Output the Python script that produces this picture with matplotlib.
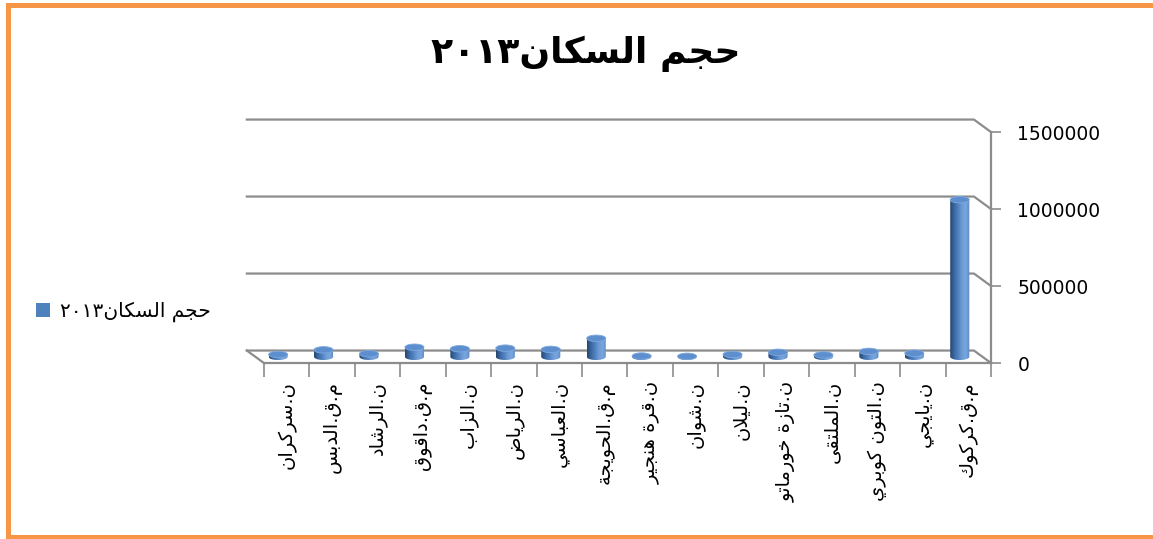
import re
import numpy as np
import matplotlib
matplotlib.use("Agg")
import matplotlib.pyplot as plt
from matplotlib.patches import Ellipse, PathPatch, Patch
from matplotlib.lines import Line2D
from matplotlib.path import Path
from matplotlib.colors import LinearSegmentedColormap

# data
title = "حجم السكان٢٠١٣"
series_name = "حجم السكان٢٠١٣"
units = ["ن.سركران", "م.ق.الدبس", "ن.الرشاد", "م.ق.داقوق", "ن.الزاب", "ن.الرياض",
         "ن.العباسي", "م.ق.الحويجة", "ن.قرة هنجير", "ن.شوان", "ن.ليلان",
         "ن.تازة خورماتو", "ن.الملتقى", "ن.التون كوبري", "ن.يايجي", "م.ق.كركوك"]
population = [15000, 45000, 20000, 62000, 52000, 56000, 48000, 120000,
              5000, 3000, 15000, 29000, 12000, 35000, 23000, 1020000]
yticks = [0, 500000, 1000000, 1500000]

# --- minimal arabic shaping (matplotlib has no text shaping) ---
FORMS = {
    'ا': (0xFE8D, 0xFE8E, None, None), 'ب': (0xFE8F, 0xFE90, 0xFE91, 0xFE92),
    'ة': (0xFE93, 0xFE94, None, None), 'ت': (0xFE95, 0xFE96, 0xFE97, 0xFE98),
    'ج': (0xFE9D, 0xFE9E, 0xFE9F, 0xFEA0), 'ح': (0xFEA1, 0xFEA2, 0xFEA3, 0xFEA4),
    'خ': (0xFEA5, 0xFEA6, 0xFEA7, 0xFEA8), 'د': (0xFEA9, 0xFEAA, None, None),
    'ر': (0xFEAD, 0xFEAE, None, None), 'ز': (0xFEAF, 0xFEB0, None, None),
    'س': (0xFEB1, 0xFEB2, 0xFEB3, 0xFEB4), 'ش': (0xFEB5, 0xFEB6, 0xFEB7, 0xFEB8),
    'ض': (0xFEBD, 0xFEBE, 0xFEBF, 0xFEC0), 'ع': (0xFEC9, 0xFECA, 0xFECB, 0xFECC),
    'ق': (0xFED5, 0xFED6, 0xFED7, 0xFED8), 'ك': (0xFED9, 0xFEDA, 0xFEDB, 0xFEDC),
    'ل': (0xFEDD, 0xFEDE, 0xFEDF, 0xFEE0), 'م': (0xFEE1, 0xFEE2, 0xFEE3, 0xFEE4),
    'ن': (0xFEE5, 0xFEE6, 0xFEE7, 0xFEE8), 'ه': (0xFEE9, 0xFEEA, 0xFEEB, 0xFEEC),
    'و': (0xFEED, 0xFEEE, None, None), 'ى': (0xFEEF, 0xFEF0, None, None),
    'ي': (0xFEF1, 0xFEF2, 0xFEF3, 0xFEF4),
}


def shape(s):
    out = []
    i = 0
    while i < len(s):
        c = s[i]
        if c not in FORMS:
            out.append(c)
            i += 1
            continue
        prev = s[i - 1] if i > 0 else ''
        pj = prev in FORMS and FORMS[prev][2] is not None
        if c == 'ل' and i + 1 < len(s) and s[i + 1] == 'ا':
            out.append(chr(0xFEFC if pj else 0xFEFB))
            i += 2
            continue
        nxt = s[i + 1] if i + 1 < len(s) else ''
        nj = nxt in FORMS and FORMS[c][2] is not None
        iso, fin, ini, med = FORMS[c]
        if pj and nj:
            f = med
        elif pj:
            f = fin
        elif nj:
            f = ini
        else:
            f = iso
        out.append(chr(f))
        i += 1
    shaped = ''.join(out)
    runs = re.findall(r'[0-9٠-٩]+|[^0-9٠-٩]+', shaped)
    runs = [r if re.match(r'[0-9٠-٩]', r) else r[::-1] for r in runs]
    return ''.join(runs[::-1])


plt.rcParams['font.family'] = ['DejaVu Sans']

GRAY = '#8c8c8c'
BLUE = '#4f81bd'
cyl = LinearSegmentedColormap.from_list('cyl', ['#27466e', '#3b67a2', '#4f81bd', '#6d9bd6', '#7aa6de', '#5a87c3'])

fig = plt.figure(figsize=(11.53, 5.39), dpi=100)
ax = fig.add_axes([0.2141, 0.3265, 0.6454, 0.4571])

DX = 0.375       # depth offset in category units
DY = 81000       # depth offset in value units
n = len(units)

# back wall gridlines and floor
for v in yticks:
    ax.plot([-DX, n - DX, n], [v + DY, v + DY, v], color=GRAY, lw=1.6, zorder=1, clip_on=False)
ax.plot([-DX, 0], [DY, 0], color=GRAY, lw=1.6, zorder=1, clip_on=False)

# cylinders
w = 0.42
eh = 42000
grad = np.linspace(0, 1, 64).reshape(1, -1)
t = np.linspace(np.pi, 2 * np.pi, 40)
for i, v in enumerate(population):
    cx = i + 0.5 - DX / 2
    y0 = DY / 2
    verts = [(cx - w / 2, y0 + v)]
    verts += list(zip(cx + w / 2 * np.cos(t), y0 + eh / 2 * np.sin(t)))
    verts += [(cx + w / 2, y0 + v), (cx - w / 2, y0 + v)]
    body = PathPatch(Path(verts, closed=True), facecolor='none', edgecolor='none')
    ax.add_patch(body)
    im = ax.imshow(grad, extent=[cx - w / 2, cx + w / 2, y0 - eh / 2, y0 + v],
                   aspect='auto', cmap=cyl, zorder=3, interpolation='bilinear')
    im.set_clip_path(body)
    ax.add_patch(Ellipse((cx, y0 + v), w, eh, facecolor='#5d8fcf', edgecolor='#7ea9de',
                         lw=0.6, zorder=4))

ax.set_xlim(-DX, n)
ax.set_ylim(0, 1600000)

for s in ['left', 'top']:
    ax.spines[s].set_visible(False)
ax.spines['bottom'].set_bounds(0, n)
ax.spines['right'].set_bounds(0, 1500000)
for s in ['bottom', 'right']:
    ax.spines[s].set_color(GRAY)
    ax.spines[s].set_linewidth(1.6)

ax.yaxis.tick_right()
ax.set_yticks(yticks, labels=[str(v) for v in yticks])
ax.tick_params(axis='y', length=7, width=1.2, color=GRAY, pad=12, labelsize=13.5, left=False)

ax.set_xticks(np.arange(n + 1), labels=[''] * (n + 1))
ax.set_xticks(np.arange(n) + 0.5, labels=[shape(u) for u in units], minor=True)
ax.tick_params(axis='x', which='major', length=10, width=1.2, color=GRAY)
ax.tick_params(axis='x', which='minor', length=0, pad=13, labelsize=14, labelrotation=90)

fig.text(0.508, 0.90, shape(title), ha='center', va='center', fontsize=26, fontweight='bold')

fig.legend(handles=[Patch(facecolor=BLUE)], labels=[shape(series_name)],
           loc='center left', bbox_to_anchor=(36 / 1153, 1 - 312 / 539), frameon=False,
           handlelength=0.7, handleheight=0.7, handletextpad=0.5, borderpad=0,
           borderaxespad=0, fontsize=14.5)

# orange chart border: left, top and bottom only (right edge is cut off in the original)
left, top, bot = 7.5 / 1153, 1 - 5 / 539, 2.5 / 539
fig.add_artist(Line2D([1.02, left, left, 1.02], [top, top, bot, bot], transform=fig.transFigure,
                      color='#f79646', lw=3.6, solid_joinstyle='miter'))

fig.savefig('out.png', dpi=100)
